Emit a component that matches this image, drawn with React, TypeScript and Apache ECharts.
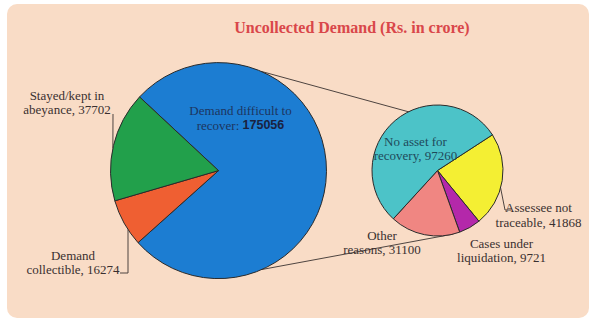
import React, { useEffect, useRef } from "react";
import * as echarts from "echarts";

// ---- data ----
const titleText = "Uncollected Demand (Rs. in crore)";
const bigCategories = ["Demand difficult to\nrecover", "Demand\ncollectible", "Stayed/kept in\nabeyance"];
const bigValues = [175056, 16274, 37702];
const smallCategories = ["Assessee not\ntraceable", "Cases under\nliquidation", "Other\nreasons", "No asset for\nrecovery"];
const smallValues = [41868, 9721, 31100, 97260];

// ---- styles / layout ----
const bigColors = ["#1c7dd2", "#ef5f32", "#22a04b"];
const smallColors = ["#f4ef33", "#b428aa", "#f08682", "#4cc3c8"];
const BIG = { cx: 218.5, cy: 170.6, r: 108 };
const SMALL = { cx: 437.5, cy: 170.5, r: 65.5 };
const bigLabelPos = [[240.5, 118.2], [73, 262.7], [67, 102.5]];
const smallLabelPos = [[538.5, 215], [501.5, 250.4], [382, 242.5], [415.5, 148.5]];
const SERIF = "'Liberation Serif', 'Times New Roman', serif";
const LABEL_COLOR = "#3a3030";
const LINE_COLOR = "#4e4440";

function ptOn(c: { cx: number; cy: number; r: number }, deg: number): number[] {
  const a = (deg * Math.PI) / 180;
  return [c.cx + c.r * Math.cos(a), c.cy - c.r * Math.sin(a)];
}

export default function App() {
  const ref = useRef<HTMLDivElement>(null);
  useEffect(() => {
    if (!ref.current) return;
    const chart = echarts.init(ref.current, null, { renderer: "svg" });

    const topA = ptOn(BIG, 66.8);
    const topB = ptOn(SMALL, 33);
    const botA = ptOn(BIG, -66.3);
    const botB = ptOn(SMALL, -76);
    const stayedEnd = ptOn(BIG, 168);
    const collY = BIG.cy + Math.sqrt(BIG.r * BIG.r - (BIG.cx - 128) * (BIG.cx - 128));
    const assStart = ptOn(SMALL, -15.5);

    const labelBase = {
      show: true,
      position: "outside",
      fontFamily: SERIF,
      fontSize: 13,
      lineHeight: 14.5,
      color: LABEL_COLOR,
      align: "center",
    };

    const option: any = {
      animation: false,
      backgroundColor: "#ffffff",
      title: {
        text: titleText,
        left: 352,
        top: 18,
        textAlign: "center",
        padding: 0,
        textStyle: {
          fontFamily: SERIF,
          fontSize: 16,
          fontWeight: "bold",
          color: "#d9474a",
          lineHeight: 18,
        },
      },
      graphic: [
        {
          type: "rect",
          z: 0,
          silent: true,
          shape: { x: 7, y: 4, width: 582, height: 314, r: 10 },
          style: { fill: "#f9dcc6" },
        },
        {
          type: "line",
          z: 1,
          shape: { x1: topA[0], y1: topA[1], x2: topB[0], y2: topB[1] },
          style: { stroke: LINE_COLOR, lineWidth: 1 },
        },
        {
          type: "line",
          z: 1,
          shape: { x1: botA[0], y1: botA[1], x2: botB[0], y2: botB[1] },
          style: { stroke: LINE_COLOR, lineWidth: 1 },
        },
        {
          type: "polyline",
          z: 5,
          shape: { points: [[113, 114], stayedEnd] },
          style: { stroke: LINE_COLOR, lineWidth: 1, fill: null },
        },
        {
          type: "polyline",
          z: 5,
          shape: { points: [[120, 273], [128, 273], [128, collY]] },
          style: { stroke: LINE_COLOR, lineWidth: 1, fill: null },
        },
        {
          type: "polyline",
          z: 5,
          shape: { points: [assStart, [505, 210], [511, 210]] },
          style: { stroke: LINE_COLOR, lineWidth: 1, fill: null },
        },
      ],
      series: [
        {
          type: "pie",
          center: [BIG.cx, BIG.cy],
          radius: [0, BIG.r],
          startAngle: 137,
          clockwise: true,
          avoidLabelOverlap: false,
          silent: true,
          itemStyle: { borderColor: "#2b2b2b", borderWidth: 1 },
          labelLine: { show: false },
          label: {
            ...labelBase,
            formatter: (p: any) =>
              p.dataIndex === 0 ? `${p.name}: {v|${p.value}}` : `${p.name}, ${p.value}`,
            rich: {
              v: {
                fontFamily: "'Liberation Sans', Arial, sans-serif",
                fontWeight: "bold",
                fontSize: 12.5,
                color: "#1a2240",
              },
            },
          },
          labelLayout: (p: any) => ({
            x: bigLabelPos[p.dataIndex][0],
            y: bigLabelPos[p.dataIndex][1],
            align: "center",
            verticalAlign: "middle",
          }),
          data: bigCategories.map((n, i) => ({
            name: n,
            value: bigValues[i],
            itemStyle: { color: bigColors[i] },
            label: i === 0 ? { color: "#1d3560" } : {},
          })),
        },
        {
          type: "pie",
          center: [SMALL.cx, SMALL.cy],
          radius: [0, SMALL.r],
          startAngle: 33,
          clockwise: true,
          avoidLabelOverlap: false,
          silent: true,
          itemStyle: { borderColor: "#2b2b2b", borderWidth: 1 },
          labelLine: { show: false },
          label: {
            ...labelBase,
            formatter: (p: any) => `${p.name}, ${p.value}`,
          },
          labelLayout: (p: any) => ({
            x: smallLabelPos[p.dataIndex][0],
            y: smallLabelPos[p.dataIndex][1],
            align: "center",
            verticalAlign: "middle",
          }),
          data: smallCategories.map((n, i) => ({
            name: n,
            value: smallValues[i],
            itemStyle: { color: smallColors[i] },
            label: i === 3 ? { color: "#1f4a5a" } : {},
          })),
        },
      ],
    };
    chart.setOption(option);
    return () => chart.dispose();
  }, []);
  return (
    <div
      ref={ref}
      style={{ position: "absolute", left: 0, top: 0, width: 593, height: 322 }}
    />
  );
}
